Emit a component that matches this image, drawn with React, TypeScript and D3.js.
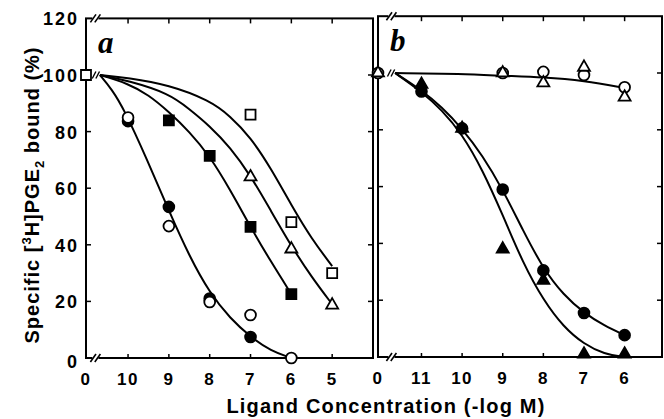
import React, { useEffect, useRef } from 'react';
import * as d3 from 'd3';

type Pt = [number, number];

// shared y axis (% bound)
const yTicks = [0, 20, 40, 60, 80, 100, 120];

// x ticks (-log M); "0" is the control column at the left of each panel
const aTicks = [10, 9, 8, 7, 6, 5];
const bTicks = [11, 10, 9, 8, 7, 6];

// panel a points [-log M, %], x = 0 means control
const aOpenSquare: Pt[] = [[0, 100], [7, 86], [6, 48], [5, 30]];
const aOpenTriangle: Pt[] = [[7, 64], [6, 38.5], [5, 18.7]];
const aFilledSquare: Pt[] = [[9, 84], [8, 71.4], [7, 46.3], [6, 22.6]];
const aFilledCircle: Pt[] = [[10, 83.7], [9, 53.4], [8, 21], [7, 7.4]];
const aOpenCircle: Pt[] = [[10, 85], [9, 46.6], [8, 19.8], [7, 15.2], [6, 0]];

// panel a fitted curves
const aCurveCircle: Pt[] = [[10.69, 100], [10.4, 95], [10.1, 88], [9.53, 70], [9, 52], [8.5, 36], [8, 23], [7.5, 14], [7, 7.4], [6.5, 2.5], [6, 0]];
const aCurveFSquare: Pt[] = [[10.69, 100], [10, 97], [9.5, 93], [9, 87], [8.5, 80], [8, 71.4], [7.5, 59.5], [7, 46.3], [6.5, 34], [6, 22.6]];
const aCurveTriangle: Pt[] = [[10.69, 100], [10, 98], [9, 93.5], [8.5, 88], [8, 82], [7.5, 74.5], [7, 64.5], [6.5, 52], [6, 39.5], [5.5, 28.5], [5, 19]];
const aCurveOSquare: Pt[] = [[10.69, 100], [10, 99], [9, 96.5], [8, 91], [7.5, 85.5], [7, 78], [6.5, 67], [6, 54], [5.5, 42], [5, 32.5]];

// panel b points
const bOpenCircle: Pt[] = [[0, 100], [9, 100], [8, 100.4], [7, 99.3], [6, 95]];
const bOpenTriangle: Pt[] = [[0, 100], [9, 100], [8, 96.5], [7, 102], [6, 91.5]];
const bFilledTriangle: Pt[] = [[11, 96], [10, 80.5], [9, 38], [8, 27], [7, 1], [6, 1]];
const bFilledCircle: Pt[] = [[11, 93.5], [10, 80.5], [9, 59], [8, 30.5], [7, 15.5], [6, 7.7]];

// panel b fitted curves
const bCurveFlat: Pt[] = [[11.65, 100], [10, 99.7], [9, 99], [8, 98.5], [7, 97.3], [6, 94.7]];
const bCurveCircle: Pt[] = [[11.65, 100], [11, 94], [10.5, 88], [10, 80.5], [9.5, 71], [9, 59], [8.5, 44.5], [8, 31], [7.5, 21.8], [7, 15.5], [6.5, 11], [6, 7.7]];
const bCurveTriangle: Pt[] = [[11.65, 100], [11, 93.5], [10.5, 87], [10, 78.5], [9.5, 66], [9, 50], [8.5, 33], [8, 20], [7.5, 10.5], [7, 4.5], [6.5, 1], [6, 0]];

const font = "'Liberation Sans', Arial, Helvetica, sans-serif";

const App = () => {
  const svgRef = useRef<SVGSVGElement>(null);

  useEffect(() => {
    const svg = d3.select(svgRef.current);
    svg.selectAll('*').remove();

    const panels = [
      {
        letter: 'a', left: 86, right: 373, bottom: 358, top: 18.4, start: 11.03, end: 4.0,
        ticks: aTicks, breakAt: 10.8, yLabels: true,
        curves: [aCurveCircle, aCurveFSquare, aCurveTriangle, aCurveOSquare],
        series: [
          { data: aFilledCircle, shape: 'circle', filled: true },
          { data: aOpenCircle, shape: 'circle', filled: false },
          { data: aFilledSquare, shape: 'square', filled: true },
          { data: aOpenTriangle, shape: 'triangle', filled: false },
          { data: aOpenSquare, shape: 'square', filled: false },
        ],
      },
      {
        letter: 'b', left: 378, right: 662, bottom: 357, top: 16.2, start: 12.07, end: 5.08,
        ticks: bTicks, breakAt: 11.74, yLabels: false,
        curves: [bCurveFlat, bCurveCircle, bCurveTriangle],
        series: [
          { data: bFilledTriangle, shape: 'triangle', filled: true },
          { data: bFilledCircle, shape: 'circle', filled: true },
          { data: bOpenCircle, shape: 'circle', filled: false },
          { data: bOpenTriangle, shape: 'triangle', filled: false },
        ],
      },
    ];

    const symbols: Record<string, any> = {
      circle: d3.symbol(d3.symbolCircle, 92),
      square: d3.symbol(d3.symbolSquare, 100),
      triangle: d3.symbol(d3.symbolTriangle, 62),
    };

    const drawBreak = (g: any, x: number, y: number, h: number) => {
      g.append('rect').attr('x', x - 3).attr('y', y - 1.5).attr('width', 6).attr('height', 3).attr('fill', 'white');
      [-2.2, 2.2].forEach((dx) => {
        g.append('line')
          .attr('x1', x + dx - h * 0.35).attr('y1', y + h * 0.5)
          .attr('x2', x + dx + h * 0.35).attr('y2', y - h * 0.5)
          .attr('stroke', 'black').attr('stroke-width', 1.6);
      });
    };

    panels.forEach((p) => {
      const x = d3.scaleLinear().domain([p.start, p.end]).range([p.left, p.right]);
      const y = d3.scaleLinear().domain([0, 120]).range([p.bottom, p.top]);
      const px = (v: number) => (v === 0 ? x(p.start) : x(v));
      const g = svg.append('g');

      // frame
      g.append('rect')
        .attr('x', p.left).attr('y', p.top)
        .attr('width', p.right - p.left).attr('height', p.bottom - p.top)
        .attr('fill', 'none').attr('stroke', 'black').attr('stroke-width', 2);

      // inward y ticks on both sides
      yTicks.filter((t) => t > 0 && t < 120).forEach((t) => {
        g.append('line').attr('x1', p.left).attr('x2', p.left + 5).attr('y1', y(t)).attr('y2', y(t))
          .attr('stroke', 'black').attr('stroke-width', 1.5);
        g.append('line').attr('x1', p.right).attr('x2', p.right - 5).attr('y1', y(t)).attr('y2', y(t))
          .attr('stroke', 'black').attr('stroke-width', 1.5);
      });

      // inward x ticks top and bottom
      p.ticks.forEach((t) => {
        g.append('line').attr('x1', x(t)).attr('x2', x(t)).attr('y1', p.top).attr('y2', p.top + 5)
          .attr('stroke', 'black').attr('stroke-width', 1.5);
        g.append('line').attr('x1', x(t)).attr('x2', x(t)).attr('y1', p.bottom).attr('y2', p.bottom - 4)
          .attr('stroke', 'black').attr('stroke-width', 1.5);
      });

      // x tick labels
      const labels = [{ v: 0, s: '0' }, ...p.ticks.map((t) => ({ v: t, s: String(t) }))];
      g.selectAll('.xl').data(labels).join('text')
        .attr('x', (d) => px(d.v)).attr('y', p.bottom + 27)
        .attr('text-anchor', 'middle')
        .attr('font-family', font).attr('font-weight', 'bold').attr('font-size', 17)
        .attr('letter-spacing', 1.5)
        .text((d) => d.s);

      if (p.yLabels) {
        g.selectAll('.yl').data(yTicks).join('text')
          .attr('x', p.left - 7).attr('y', (d) => y(d) + (d === 0 ? 10 : 7))
          .attr('text-anchor', 'end')
          .attr('font-family', font).attr('font-weight', 'bold').attr('font-size', 18)
          .attr('letter-spacing', 2)
          .text((d) => d);
      }

      // axis breaks
      drawBreak(g, x(p.breakAt), p.top, 8);
      drawBreak(g, x(p.breakAt), p.bottom, 8);

      // panel letter
      g.append('text')
        .attr('x', p.left + 12).attr('y', p.top + 35)
        .attr('font-family', "'Liberation Serif', 'DejaVu Serif', serif")
        .attr('font-weight', 'bold').attr('font-style', 'italic').attr('font-size', 31)
        .text(p.letter);

      // fitted curves
      const line = d3.line<Pt>().x((d) => x(d[0])).y((d) => y(d[1])).curve(d3.curveBasis);
      g.selectAll('.curve').data(p.curves).join('path')
        .attr('d', (d) => line(d))
        .attr('fill', 'none').attr('stroke', 'black').attr('stroke-width', 2);

      // small break tick on the curves near start
      const cs = p.curves[0][0];
      const bx = x(cs[0]) - 4;
      const by = y(cs[1]);
      [-1.8, 1.8].forEach((dx) => {
        g.append('line')
          .attr('x1', bx + dx - 1.8).attr('y1', by + 3.5)
          .attr('x2', bx + dx + 1.8).attr('y2', by - 3.5)
          .attr('stroke', 'black').attr('stroke-width', 1.4);
      });

      // markers
      p.series.forEach((s) => {
        g.selectAll(null).data(s.data).join('path')
          .attr('transform', (d) => `translate(${px(d[0])},${y(d[1])})`)
          .attr('d', symbols[s.shape]())
          .attr('fill', s.filled ? 'black' : 'white')
          .attr('stroke', 'black').attr('stroke-width', 1.8);
      });
    });

    // axis titles
    svg.append('text')
      .attr('transform', 'translate(39,195) rotate(-90)')
      .attr('text-anchor', 'middle')
      .attr('font-family', font).attr('font-weight', 'bold').attr('font-size', 20)
      .attr('letter-spacing', 1)
      .call((t) => {
        t.append('tspan').text('Specific [');
        t.append('tspan').attr('dy', -8).attr('font-size', 13).text('3');
        t.append('tspan').attr('dy', 8).text('H]PGE');
        t.append('tspan').attr('dy', 5).attr('font-size', 13).text('2');
        t.append('tspan').attr('dy', -5).text(' bound (%)');
      });

    svg.append('text')
      .attr('x', 386).attr('y', 413)
      .attr('text-anchor', 'middle')
      .attr('font-family', font).attr('font-weight', 'bold').attr('font-size', 20)
      .attr('letter-spacing', 1.2)
      .text('Ligand Concentration (-log M)');
  }, []);

  return (
    <svg
      ref={svgRef}
      width={664}
      height={419}
      style={{ position: 'absolute', left: 0, top: 0, background: 'white' }}
    />
  );
};

export default App;
